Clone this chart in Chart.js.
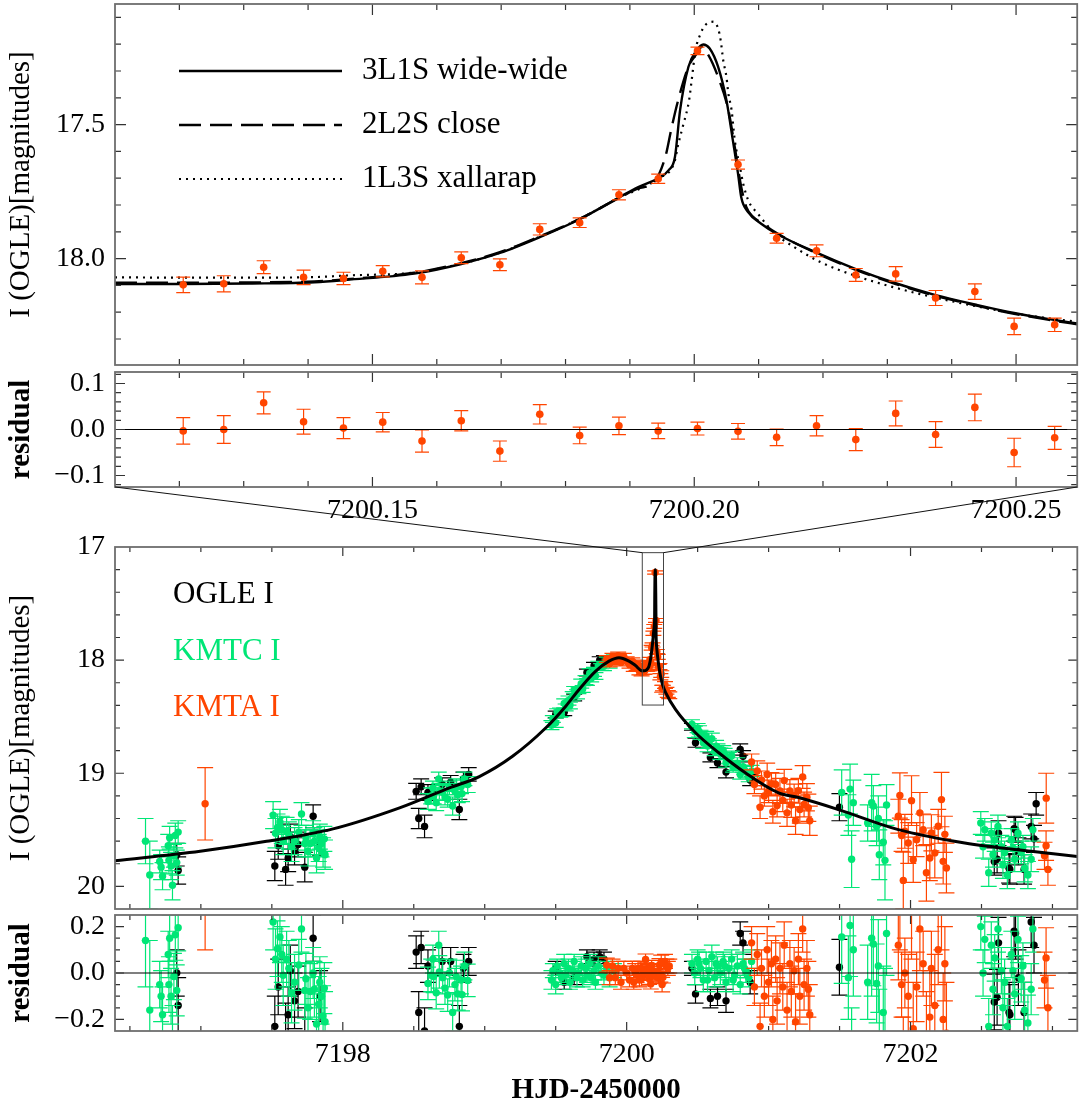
<!DOCTYPE html>
<html>
<head>
<meta charset="utf-8">
<script src="https://cdn.jsdelivr.net/npm/chart.js@4.4.1/dist/chart.umd.min.js"></script>
<style>
  html, body { margin: 0; padding: 0; background: #ffffff; }
  #wrap { position: relative; width: 1081px; height: 1109px; }
  #wrap canvas { position: absolute; left: 0; top: 0; }
</style>
</head>
<body>
<div id="wrap">
  <canvas id="cZoom" width="1081" height="1109"></canvas>
  <canvas id="cZoomRes" width="1081" height="1109"></canvas>
  <canvas id="cMain" width="1081" height="1109"></canvas>
  <canvas id="cMainRes" width="1081" height="1109"></canvas>
</div>
<script>
// ---------------- zoomed window around the caustic crossing ----------------
const zoomXRange = [7200.11, 7200.2595];
const zoomYRange = [17.05, 18.397];

// KMTA I points inside the zoom window
const zoomTime = [7200.1206, 7200.1269, 7200.1331, 7200.1393, 7200.1455, 7200.1516, 7200.1577, 7200.1638,
  7200.1698, 7200.1760, 7200.1822, 7200.1883, 7200.1944, 7200.2005, 7200.2068, 7200.2128, 7200.2190,
  7200.2251, 7200.2313, 7200.2375, 7200.2436, 7200.2497, 7200.2560];
const zoomMag = [18.098, 18.094, 18.032, 18.070, 18.074, 18.047, 18.070, 17.997, 18.023, 17.891, 17.866,
  17.762, 17.702, 17.225, 17.649, 17.924, 17.971, 18.061, 18.057, 18.147, 18.123, 18.253, 18.247];
const zoomErr = [0.029, 0.030, 0.024, 0.027, 0.023, 0.021, 0.024, 0.022, 0.022, 0.021, 0.018, 0.019,
  0.017, 0.014, 0.017, 0.018, 0.022, 0.024, 0.027, 0.028, 0.029, 0.031, 0.025];
const zoomRes = [-0.003, 0.000, 0.058, 0.017, 0.003, 0.016, -0.025, 0.019, -0.047, 0.033, -0.013, 0.008,
  -0.003, 0.002, -0.004, -0.017, 0.008, -0.022, 0.035, -0.011, 0.048, -0.050, -0.018];

// model light curves in the zoom window
const wideTime = [7200.1100, 7200.1205, 7200.1309, 7200.1410, 7200.1461, 7200.1565, 7200.1638, 7200.1698,
  7200.1760, 7200.1822, 7200.1883, 7200.1913, 7200.1944, 7200.1960, 7200.1970, 7200.1978, 7200.1991,
  7200.2004, 7200.2014, 7200.2024, 7200.2037, 7200.2050, 7200.2060, 7200.2068, 7200.2073, 7200.2084,
  7200.2104, 7200.2128, 7200.2190, 7200.2251, 7200.2313, 7200.2375, 7200.2436, 7200.2497, 7200.2560, 7200.2595];
const wideMag = [18.095, 18.095, 18.093, 18.088, 18.079, 18.056, 18.020, 17.979, 17.920, 17.853, 17.772,
  17.733, 17.700, 17.671, 17.621, 17.446, 17.284, 17.222, 17.201, 17.216, 17.284, 17.409, 17.559, 17.683,
  17.771, 17.827, 17.870, 17.907, 17.978, 18.039, 18.092, 18.136, 18.171, 18.203, 18.229, 18.242];

const closeTime = [7200.1100, 7200.1205, 7200.1309, 7200.1410, 7200.1461, 7200.1565, 7200.1638, 7200.1698,
  7200.1760, 7200.1822, 7200.1883, 7200.1913, 7200.1937, 7200.1955, 7200.1965, 7200.1975, 7200.1991,
  7200.2006, 7200.2011, 7200.2022, 7200.2037, 7200.2053, 7200.2063, 7200.2073, 7200.2081, 7200.2091,
  7200.2104, 7200.2128, 7200.2190, 7200.2251, 7200.2313, 7200.2375, 7200.2436, 7200.2497, 7200.2560, 7200.2595];
const closeMag = [18.090, 18.090, 18.089, 18.085, 18.077, 18.053, 18.017, 17.976, 17.917, 17.852, 17.774,
  17.738, 17.716, 17.621, 17.509, 17.409, 17.284, 17.228, 17.210, 17.241, 17.322, 17.446, 17.584, 17.733,
  17.808, 17.843, 17.866, 17.905, 17.980, 18.042, 18.095, 18.139, 18.174, 18.206, 18.232, 18.245];

const xallTime = [7200.1100, 7200.1205, 7200.1309, 7200.1410, 7200.1461, 7200.1565, 7200.1638, 7200.1698,
  7200.1760, 7200.1822, 7200.1883, 7200.1944, 7200.1970, 7200.1974, 7200.1982, 7200.1992, 7200.1996,
  7200.2002, 7200.2010, 7200.2017, 7200.2030, 7200.2037, 7200.2041, 7200.2045, 7200.2050, 7200.2053,
  7200.2058, 7200.2063, 7200.2071, 7200.2076, 7200.2084, 7200.2099, 7200.2125, 7200.2156, 7200.2197,
  7200.2249, 7200.2301, 7200.2352, 7200.2404, 7200.2456, 7200.2507, 7200.2595];
const xallMag = [18.070, 18.071, 18.071, 18.069, 18.063, 18.052, 18.019, 17.978, 17.918, 17.852, 17.773,
  17.701, 17.634, 17.585, 17.509, 17.409, 17.334, 17.222, 17.160, 17.129, 17.116, 17.141, 17.185, 17.260,
  17.322, 17.384, 17.446, 17.559, 17.658, 17.720, 17.783, 17.833, 17.906, 17.958, 18.014, 18.063, 18.101,
  18.133, 18.161, 18.186, 18.208, 18.236];

// ---------------- full light curve ----------------
const fullXRange = [7196.395, 7203.175];
const fullYRange = [17.0, 20.2];

// 3L1S wide-wide model over the whole window
const modelTime = [7196.395, 7196.995, 7197.463, 7197.931, 7198.400, 7198.751, 7198.962, 7199.196, 7199.431,
  7199.571, 7199.665, 7199.782, 7199.876, 7199.946, 7200.016, 7200.060, 7200.1100, 7200.1309, 7200.1461,
  7200.1565, 7200.1638, 7200.1698, 7200.1760, 7200.1822, 7200.1883, 7200.1944, 7200.1970, 7200.1978,
  7200.1991, 7200.2004, 7200.2014, 7200.2024, 7200.2037, 7200.2050, 7200.2060, 7200.2068, 7200.2073,
  7200.2084, 7200.2104, 7200.2128, 7200.2190, 7200.2251, 7200.2313, 7200.2375, 7200.2436, 7200.2497,
  7200.2560, 7200.274, 7200.344, 7200.485, 7200.649, 7200.836, 7201.070, 7201.211, 7201.492, 7201.914,
  7202.382, 7202.850, 7203.175];
const modelMag = [19.773, 19.690, 19.602, 19.492, 19.306, 19.129, 19.029, 18.850, 18.598, 18.407, 18.259,
  18.097, 18.009, 17.979, 18.009, 18.045, 18.095, 18.093, 18.079, 18.056, 18.020, 17.979, 17.920, 17.853,
  17.772, 17.700, 17.621, 17.446, 17.284, 17.222, 17.201, 17.216, 17.284, 17.409, 17.559, 17.683, 17.771,
  17.827, 17.870, 17.907, 17.978, 18.039, 18.092, 18.136, 18.171, 18.203, 18.229, 18.285, 18.436, 18.642,
  18.819, 18.996, 19.173, 19.215, 19.321, 19.498, 19.616, 19.690, 19.735];

// OGLE I
const ogleTime = [7196.83, 7196.84,
  7197.521, 7197.545, 7197.597, 7197.615, 7197.63, 7197.66, 7197.685, 7197.732, 7197.791, 7197.84,
  7198.517, 7198.535, 7198.552, 7198.576, 7198.60, 7198.70, 7198.76, 7198.821, 7198.85, 7198.887,
  7199.50, 7199.56, 7199.63, 7199.72, 7199.77, 7199.81, 7199.84,
  7200.46, 7200.485, 7200.59, 7200.64, 7200.70, 7200.80, 7200.82, 7200.87,
  7201.499,
  7202.59, 7202.61, 7202.62, 7202.694, 7202.70, 7202.73, 7202.74, 7202.76, 7202.80, 7202.85, 7202.87, 7202.885];
const ogleMag = [19.72, 19.86,
  19.82, 19.64, 19.85, 19.75, 19.56, 19.69, 19.63, 19.83, 19.38, 19.62,
  19.16, 19.40, 19.12, 19.47, 19.17, 19.10, 19.08, 19.32, 19.05, 19.01,
  18.48, 18.46, 18.33, 18.11, 18.05, 18.00, 17.99,
  18.59, 18.73, 18.86, 18.91, 18.99, 18.79, 18.85, 19.06,
  19.30,
  19.78, 19.76, 19.53, 19.84, 19.85, 19.49, 19.50, 19.69, 19.85, 19.47, 19.58, 19.27];
const ogleErr = [0.10, 0.12,
  0.13, 0.12, 0.14, 0.12, 0.11, 0.12, 0.11, 0.13, 0.10, 0.11,
  0.07, 0.09, 0.07, 0.10, 0.07, 0.06, 0.06, 0.09, 0.06, 0.06,
  0.03, 0.03, 0.03, 0.03, 0.03, 0.03, 0.03,
  0.03, 0.04, 0.04, 0.04, 0.05, 0.05, 0.05, 0.05,
  0.12,
  0.12, 0.12, 0.11, 0.13, 0.13, 0.11, 0.11, 0.12, 0.13, 0.11, 0.12, 0.10];
const ogleRes = [0.00, -0.14,
  -0.23, -0.06, -0.27, -0.18, 0.01, -0.12, -0.08, -0.28, 0.15, -0.10,
  0.09, -0.17, 0.11, -0.25, 0.03, 0.05, 0.05, -0.23, 0.02, 0.05,
  0.02, -0.04, -0.02, 0.07, 0.06, 0.07, 0.06,
  0.02, -0.09, -0.11, -0.10, -0.12, 0.17, 0.13, -0.04,
  0.025,
  -0.125, -0.105, 0.13, -0.17, -0.18, 0.18, 0.17, -0.02, -0.17, 0.22, 0.12, 0.42];

// KMTC I
const kmtcTime = [7196.61, 7196.64, 7196.71, 7196.72, 7196.73, 7196.77, 7196.775, 7196.78, 7196.79, 7196.80,
  7196.81, 7196.82, 7196.83, 7196.84,
  7197.509, 7197.526, 7197.54, 7197.557, 7197.57, 7197.58, 7197.604, 7197.62, 7197.639, 7197.66, 7197.69,
  7197.709, 7197.732, 7197.74, 7197.755, 7197.77, 7197.791, 7197.80, 7197.815, 7197.83, 7197.838, 7197.85,
  7197.861, 7197.87, 7197.875,
  7198.60, 7198.623, 7198.635, 7198.64, 7198.658, 7198.676, 7198.68, 7198.704, 7198.72, 7198.739, 7198.751,
  7198.774, 7198.79, 7198.80, 7198.810, 7198.833, 7198.84, 7198.857, 7198.88,
  7199.47, 7199.48, 7199.50, 7199.51, 7199.53, 7199.54, 7199.56, 7199.57, 7199.59, 7199.60, 7199.62, 7199.63,
  7199.65, 7199.66, 7199.68, 7199.69, 7199.71, 7199.72, 7199.74, 7199.75, 7199.77, 7199.78, 7199.80, 7199.82,
  7199.84, 7199.86, 7199.88, 7199.91,
  7200.46, 7200.48, 7200.50, 7200.51, 7200.52, 7200.54, 7200.56, 7200.57, 7200.58, 7200.60, 7200.62, 7200.63,
  7200.64, 7200.66, 7200.68, 7200.69, 7200.70, 7200.72, 7200.74, 7200.75, 7200.76, 7200.78, 7200.80, 7200.82,
  7200.83, 7200.84, 7200.86, 7200.88,
  7201.515, 7201.562, 7201.574, 7201.585, 7201.597, 7201.698, 7201.726, 7201.738, 7201.761, 7201.773, 7201.78,
  7201.808, 7201.82, 7201.831,
  7202.495, 7202.511, 7202.523, 7202.551, 7202.569, 7202.581, 7202.593, 7202.616, 7202.64, 7202.651, 7202.663,
  7202.682, 7202.71, 7202.722, 7202.734, 7202.757, 7202.78, 7202.792, 7202.804, 7202.827, 7202.85, 7202.862];
const kmtcMag = [19.60, 19.90, 19.78, 19.83, 19.91, 19.64, 19.77, 19.57, 19.82, 19.99,
  19.73, 19.55, 19.79, 19.52,
  19.37, 19.53, 19.48, 19.43, 19.50, 19.59, 19.51, 19.55, 19.65, 19.60, 19.52,
  19.36, 19.62, 19.57, 19.69, 19.62, 19.53, 19.60, 19.75, 19.66, 19.56, 19.62,
  19.70, 19.58, 19.72,
  19.25, 19.20, 19.13, 19.20, 19.26, 19.05, 19.16, 19.17, 19.21, 19.23, 19.13,
  19.29, 19.16, 19.12, 19.19, 19.12, 19.18, 19.05, 19.10,
  18.575, 18.521, 18.554, 18.46, 18.463, 18.47, 18.382, 18.418, 18.357, 18.401, 18.319, 18.263,
  18.302, 18.266, 18.208, 18.255, 18.177, 18.193, 18.116, 18.162, 18.104, 18.14, 18.05, 18.061,
  18.053, 18.004, 18.03, 17.983,
  18.567, 18.634, 18.60, 18.63, 18.66, 18.73, 18.67, 18.76, 18.735, 18.695, 18.805, 18.76,
  18.78, 18.827, 18.796, 18.83, 18.907, 18.866, 18.845, 18.94, 18.934, 18.913, 19.012, 18.941,
  18.97, 18.99, 19.035, 18.98,
  19.17, 19.37, 19.14, 19.76, 19.26, 19.44, 19.26, 19.29, 19.47, 19.40, 19.72,
  19.61, 19.77, 19.28,
  19.44, 19.65, 19.50, 19.88, 19.53, 19.72, 19.59, 19.47, 19.65, 19.81, 19.70,
  19.90, 19.59, 19.66, 19.76, 19.53, 19.70, 19.65, 19.84, 19.90, 19.76, 19.50];
const kmtcErr = [0.20, 0.30, 0.10, 0.11, 0.12, 0.10, 0.12, 0.10, 0.12, 0.13,
  0.10, 0.11, 0.11, 0.10,
  0.12, 0.13, 0.12, 0.11, 0.12, 0.13, 0.12, 0.12, 0.13, 0.12, 0.11,
  0.10, 0.12, 0.11, 0.13, 0.12, 0.11, 0.12, 0.13, 0.12, 0.11, 0.12,
  0.13, 0.11, 0.13,
  0.07, 0.07, 0.06, 0.07, 0.07, 0.06, 0.07, 0.07, 0.07, 0.07, 0.06,
  0.08, 0.07, 0.07, 0.07, 0.06, 0.07, 0.06, 0.07,
  0.04, 0.03, 0.04, 0.03, 0.04, 0.03, 0.04, 0.03, 0.04, 0.03, 0.04, 0.03,
  0.04, 0.03, 0.04, 0.03, 0.04, 0.03, 0.04, 0.03, 0.04, 0.03, 0.04, 0.03,
  0.04, 0.03, 0.04, 0.03,
  0.04, 0.05, 0.04, 0.05, 0.04, 0.05, 0.04, 0.05, 0.04, 0.05, 0.04, 0.05,
  0.04, 0.05, 0.04, 0.05, 0.04, 0.05, 0.04, 0.05, 0.04, 0.05, 0.04, 0.05,
  0.04, 0.05, 0.04, 0.05,
  0.20, 0.18, 0.22, 0.25, 0.20, 0.16, 0.25, 0.18, 0.17, 0.20, 0.22,
  0.20, 0.35, 0.18,
  0.10, 0.10, 0.10, 0.12, 0.10, 0.11, 0.10, 0.10, 0.10, 0.12, 0.10,
  0.12, 0.10, 0.10, 0.11, 0.10, 0.10, 0.10, 0.12, 0.12, 0.11, 0.10];
const kmtcRes = [0.14, -0.16, -0.05, -0.10, -0.18, 0.08, -0.05, 0.15, -0.10, -0.27,
  -0.015, 0.165, -0.075, 0.195,
  0.22, 0.06, 0.105, 0.155, 0.08, -0.01, 0.06, 0.02, -0.085, -0.04, 0.035,
  0.19, -0.075, -0.025, -0.15, -0.08, 0.00, -0.07, -0.22, -0.135, -0.04, -0.10,
  -0.185, -0.065, -0.21,
  -0.045, -0.01, 0.06, -0.015, -0.085, 0.12, 0.005, -0.02, -0.065, -0.095, 0.00,
  -0.17, -0.05, -0.015, -0.09, -0.03, -0.093, 0.03, -0.032,
  -0.03, 0.01, -0.05, 0.03, 0.00, -0.02, 0.04, -0.01, 0.02, -0.04, 0.01, 0.05,
  -0.02, 0.00, 0.03, -0.03, 0.02, -0.01, 0.04, -0.02, 0.01, -0.04, 0.03, 0.00,
  -0.01, 0.02, -0.02, 0.01,
  0.04, 0.00, 0.06, 0.04, 0.02, -0.03, 0.05, -0.03, 0.01, 0.07, -0.02, 0.04,
  0.03, 0.00, 0.05, 0.03, -0.04, 0.02, 0.06, -0.03, -0.01, 0.03, -0.05, 0.04,
  0.02, 0.01, -0.02, 0.05,
  0.155, -0.02, 0.205, -0.40, 0.10, -0.04, 0.15, 0.125, -0.045, 0.03, -0.29,
  -0.17, -0.33, 0.17,
  0.20, 0.00, 0.145, -0.23, 0.12, -0.07, 0.065, 0.19, 0.01, -0.15, -0.04,
  -0.23, 0.08, 0.01, -0.09, 0.145, -0.025, 0.03, -0.16, -0.215, -0.07, 0.19];

// KMTA I (the points inside the zoom window are listed in zoomTime above)
const kmtaTime = [7197.03,
  7199.86, 7199.88, 7199.90, 7199.92, 7199.94, 7199.96, 7199.98, 7200.00, 7200.02, 7200.04, 7200.05, 7200.06,
  7200.07, 7200.08, 7200.09, 7200.10, 7200.105,
  7200.27, 7200.28, 7200.29, 7200.30,
  7200.88, 7200.90, 7200.92, 7200.94, 7200.95, 7200.97, 7200.99, 7201.00, 7201.02, 7201.03, 7201.05, 7201.06,
  7201.08, 7201.10, 7201.11, 7201.13, 7201.15, 7201.16, 7201.18, 7201.19, 7201.21, 7201.22, 7201.24, 7201.25,
  7201.27, 7201.28, 7201.29,
  7201.914, 7201.925, 7201.937, 7201.949, 7201.96, 7201.984, 7202.007, 7202.019, 7202.043, 7202.066, 7202.089,
  7202.112, 7202.136, 7202.147, 7202.171, 7202.195, 7202.218, 7202.23, 7202.242, 7202.253,
  7202.944, 7202.955, 7202.956, 7202.968];
const kmtaMag = [19.27,
  17.99, 18.03, 17.97, 18.01, 17.96, 18.02, 17.97, 18.00, 18.04, 18.01, 18.07, 18.03,
  18.06, 18.04, 18.10, 18.06, 18.11,
  18.22, 18.27, 18.30, 18.31,
  18.90, 19.10, 18.98, 19.30, 19.06, 19.20, 19.01, 19.16, 19.095, 19.34, 19.10, 19.285,
  19.156, 19.24, 19.065, 19.35, 19.157, 19.28, 19.196, 19.42, 19.155, 19.32, 19.033, 19.276,
  19.212, 19.305, 19.42,
  19.38, 19.197, 19.55, 19.947, 19.513, 19.616, 19.242, 19.764, 19.587, 19.35, 19.50,
  19.88, 19.749, 19.527, 19.704, 19.469, 19.233, 19.779, 19.54, 19.837,
  19.73, 19.64, 19.22, 19.85];
const kmtaErr = [0.32,
  0.03, 0.03, 0.03, 0.03, 0.03, 0.03, 0.03, 0.03, 0.03, 0.03, 0.03, 0.03,
  0.03, 0.03, 0.03, 0.03, 0.03,
  0.03, 0.03, 0.03, 0.03,
  0.07, 0.08, 0.09, 0.10, 0.08, 0.09, 0.10, 0.10, 0.10, 0.10, 0.10, 0.10,
  0.11, 0.10, 0.10, 0.12, 0.10, 0.11, 0.10, 0.12, 0.11, 0.12, 0.10, 0.11,
  0.12, 0.12, 0.13,
  0.15, 0.20, 0.14, 0.25, 0.15, 0.18, 0.22, 0.20, 0.15, 0.18, 0.14,
  0.25, 0.20, 0.16, 0.22, 0.15, 0.24, 0.20, 0.16, 0.22,
  0.12, 0.13, 0.22, 0.14];
const kmtaRes = [0.42,
  0.034, -0.02, 0.03, -0.02, 0.02, -0.04, 0.02, 0.00, -0.03, 0.02, -0.04, 0.01,
  -0.01, 0.02, -0.03, 0.02, -0.025,
  0.05, 0.03, 0.02, 0.03,
  0.13, -0.06, 0.08, -0.23, 0.02, -0.10, 0.10, -0.04, 0.04, -0.20, 0.06, -0.12,
  0.02, -0.06, 0.12, -0.16, 0.04, -0.08, 0.01, -0.21, 0.06, -0.10, 0.19, -0.05,
  0.02, -0.07, -0.18,
  0.12, 0.30, -0.05, -0.44, 0.00, -0.10, 0.28, -0.24, -0.06, 0.19, 0.04,
  -0.33, -0.19, 0.02, -0.14, 0.10, 0.34, -0.20, 0.04, -0.26,
  -0.03, 0.065, 0.48, -0.15];

// ---------------- styling ----------------
const FONT = "'Liberation Serif', 'Times New Roman', serif";
const C_OGLE = '#000000';
const C_KMTC = '#00E676';
const C_KMTA = '#FF4500';

function pts(t, v) { return t.map((x, i) => ({ x: x, y: v[i] })); }
function isMultiple(v, step) { const r = v / step; return Math.abs(r - Math.round(r)) < 1e-6; }
function fmtNum(v, digits) {
  const s = Math.abs(v) < 1e-9 ? (0).toFixed(digits) : Math.abs(v).toFixed(digits);
  return v < -1e-9 ? '\u2212' + s : s;
}

// Frame, inward ticks on all four sides, error bars, reference line, legends, zoom box
const axisFrame = {
  id: 'axisFrame',
  beforeDatasetDraw(chart, args) {
    const ds = chart.data.datasets[args.index];
    if (!ds.errors) return;
    const { ctx, chartArea: a } = chart;
    const ys = chart.scales.y;
    ctx.save();
    ctx.beginPath();
    ctx.rect(a.left, a.top, a.right - a.left, a.bottom - a.top);
    ctx.clip();
    ctx.strokeStyle = ds.errorColor;
    ctx.lineWidth = ds.errorWidth || 1.2;
    const cap = ds.capHalf || 7;
    args.meta.data.forEach((pt, i) => {
      const v = ds.data[i].y, e = ds.errors[i];
      const y1 = ys.getPixelForValue(v - e), y2 = ys.getPixelForValue(v + e);
      const x = pt.x;
      ctx.beginPath();
      ctx.moveTo(x, y1); ctx.lineTo(x, y2);
      ctx.moveTo(x - cap, y1); ctx.lineTo(x + cap, y1);
      ctx.moveTo(x - cap, y2); ctx.lineTo(x + cap, y2);
      ctx.stroke();
    });
    ctx.restore();
  },
  afterDatasetsDraw(chart, args, opts) {
    const { ctx, chartArea: a, scales } = chart;
    const xs = scales.x, ys = scales.y;
    ctx.save();
    if (opts.zeroLine) {
      const yz = ys.getPixelForValue(0);
      ctx.strokeStyle = '#000';
      ctx.lineWidth = 1.2;
      ctx.beginPath(); ctx.moveTo(a.left, yz); ctx.lineTo(a.right, yz); ctx.stroke();
    }
    // inward tick marks
    ctx.strokeStyle = '#333';
    ctx.lineWidth = 1.2;
    const majLen = opts.majorLen || 9, minLen = opts.minorLen || 5;
    xs.ticks.forEach(t => {
      const p = xs.getPixelForValue(t.value);
      if (p < a.left + 0.5 || p > a.right - 0.5) return;
      const len = isMultiple(t.value, opts.xMajor) ? majLen : minLen;
      ctx.beginPath();
      ctx.moveTo(p, a.bottom); ctx.lineTo(p, a.bottom - len);
      ctx.moveTo(p, a.top); ctx.lineTo(p, a.top + len);
      ctx.stroke();
    });
    ys.ticks.forEach(t => {
      const p = ys.getPixelForValue(t.value);
      if (p < a.top + 0.5 || p > a.bottom - 0.5) return;
      const len = isMultiple(t.value, opts.yMajor) ? majLen : minLen;
      ctx.beginPath();
      ctx.moveTo(a.left, p); ctx.lineTo(a.left + len, p);
      ctx.moveTo(a.right, p); ctx.lineTo(a.right - len, p);
      ctx.stroke();
    });
    // frame
    ctx.strokeStyle = '#6e6e6e';
    ctx.lineWidth = 1.8;
    ctx.strokeRect(a.left, a.top, a.right - a.left, a.bottom - a.top);

    // zoom box and connector lines to the panel above
    if (opts.zoomBox) {
      const zb = opts.zoomBox;
      const x0 = xs.getPixelForValue(zb.x[0]), x1 = xs.getPixelForValue(zb.x[1]);
      const y0 = ys.getPixelForValue(zb.y[0]), y1 = ys.getPixelForValue(zb.y[1]);
      ctx.strokeStyle = '#444';
      ctx.lineWidth = 1;
      ctx.strokeRect(x0, y0, x1 - x0, y1 - y0);
      const up = zb.source().chartArea;
      ctx.strokeStyle = '#111';
      ctx.beginPath();
      ctx.moveTo(up.left, up.bottom); ctx.lineTo(x0, y0);
      ctx.moveTo(up.right, up.bottom); ctx.lineTo(x1, y0);
      ctx.stroke();
    }

    // legends
    if (opts.legend) {
      const lg = opts.legend;
      ctx.textBaseline = 'middle';
      ctx.textAlign = 'left';
      ctx.font = lg.font;
      let row = 0;
      chart.data.datasets.forEach(ds => {
        if (!ds.inLegend) return;
        const y = lg.y + row * lg.dy;
        if (lg.kind === 'lines') {
          ctx.strokeStyle = ds.borderColor;
          ctx.lineWidth = ds.borderWidth;
          ctx.setLineDash(ds.borderDash || []);
          ctx.beginPath(); ctx.moveTo(lg.x, y); ctx.lineTo(lg.x + lg.lineLen, y); ctx.stroke();
          ctx.setLineDash([]);
          ctx.fillStyle = '#000';
          ctx.fillText(ds.label, lg.x + lg.lineLen + lg.gap, y);
        } else {
          ctx.fillStyle = ds.backgroundColor;
          ctx.fillText(ds.label, lg.x, y);
        }
        row++;
      });
    }
    ctx.restore();
  }
};

function xAxis(range, step, major, digits, showLabels, height, title) {
  return {
    type: 'linear', min: range[0], max: range[1],
    grid: { display: false, drawTicks: false },
    border: { display: false },
    ticks: {
      display: showLabels, stepSize: step, autoSkip: false, includeBounds: false, maxRotation: 0,
      padding: 7, color: '#000', font: { family: FONT, size: 28 },
      callback: v => isMultiple(v, major) ? v.toFixed(digits) : ''
    },
    title: title ? { display: true, text: title, color: '#000', font: { family: FONT, size: 29, weight: 'bold' },
      padding: { top: 0, bottom: 1 } } : { display: false },
    afterFit: s => { s.height = height; s.paddingLeft = 0; s.paddingRight = 0; }
  };
}
function yAxis(range, step, major, digits, reverse, title, bold) {
  return {
    type: 'linear', min: range[0], max: range[1], reverse: reverse,
    grid: { display: false, drawTicks: false },
    border: { display: false },
    ticks: {
      stepSize: step, autoSkip: false, includeBounds: false, padding: 10, color: '#000',
      font: { family: FONT, size: 28 },
      callback: v => isMultiple(v, major) ? fmtNum(v, digits) : ''
    },
    title: { display: true, text: title, color: '#000',
      font: { family: FONT, size: 29, weight: bold ? 'bold' : 'normal' },
      padding: { top: 4, bottom: 0 } },
    afterFit: s => { s.width = 115; s.paddingTop = 0; s.paddingBottom = 0; }
  };
}
function baseOptions(pad, scales, pluginOpts) {
  return {
    responsive: false, animation: false, devicePixelRatio: 1,
    layout: { padding: pad },
    events: [],
    plugins: { legend: { display: false }, tooltip: { enabled: false }, axisFrame: pluginOpts },
    scales: scales
  };
}
function pointSet(label, color, t, v, e, order, radius, cap) {
  return {
    type: 'scatter', label: label, data: pts(t, v), errors: e,
    backgroundColor: color, borderColor: color, errorColor: color, capHalf: cap,
    pointRadius: radius, pointBorderWidth: 0, pointHoverRadius: radius,
    order: order, clip: 0, inLegend: true
  };
}
function lineSet(label, t, v, dash, width, order) {
  return {
    type: 'line', label: label, data: pts(t, v), borderColor: '#000', backgroundColor: '#000',
    borderWidth: width, borderDash: dash, pointRadius: 0, cubicInterpolationMode: 'monotone',
    fill: false, order: order, clip: 0, inLegend: true
  };
}

// ---- zoom panel ----
const zoomChart = new Chart(document.getElementById('cZoom'), {
  type: 'scatter',
  data: { datasets: [
    Object.assign(pointSet('KMTA I', C_KMTA, zoomTime, zoomMag, zoomErr, 0, 3.8, 7), { inLegend: false }),
    lineSet('3L1S wide-wide', wideTime, wideMag, [], 2.4, 3),
    lineSet('2L2S close', closeTime, closeMag, [22, 9], 2.4, 2),
    lineSet('1L3S xallarap', xallTime, xallMag, [2, 5], 2.2, 1)
  ] },
  options: baseOptions({ top: 4, right: 1, bottom: 1109 - 365, left: 0 }, {
    x: xAxis(zoomXRange, 0.01, 0.05, 2, false, 0, null),
    y: yAxis(zoomYRange, 0.1, 0.5, 1, true, 'I (OGLE)[magnitudes]', false)
  }, { xMajor: 0.05, yMajor: 0.5, majorLen: 11, minorLen: 6,
       legend: { kind: 'lines', x: 179, y: 71, dy: 54, lineLen: 163, gap: 20, font: '31px ' + FONT } }),
  plugins: [axisFrame]
});

// ---- zoom residuals ----
const zoomResChart = new Chart(document.getElementById('cZoomRes'), {
  type: 'scatter',
  data: { datasets: [pointSet('KMTA I', C_KMTA, zoomTime, zoomRes, zoomErr, 0, 3.8, 7)] },
  options: baseOptions({ top: 372, right: 1, bottom: 1109 - 487 - 40, left: 0 }, {
    x: xAxis(zoomXRange, 0.01, 0.05, 2, true, 40, null),
    y: yAxis([-0.125, 0.125], 0.02, 0.1, 1, false, 'residual', true)
  }, { xMajor: 0.05, yMajor: 0.1, majorLen: 10, minorLen: 6, zeroLine: true }),
  plugins: [axisFrame]
});

// ---- full light curve ----
const kmtaAllTime = kmtaTime.concat(zoomTime);
const kmtaAllMag = kmtaMag.concat(zoomMag);
const kmtaAllErr = kmtaErr.concat(zoomErr);
const kmtaAllRes = kmtaRes.concat(zoomRes);

const mainChart = new Chart(document.getElementById('cMain'), {
  type: 'scatter',
  data: { datasets: [
    Object.assign(lineSet('3L1S wide-wide', modelTime, modelMag, [], 3, 0), { inLegend: false }),
    pointSet('OGLE I', C_OGLE, ogleTime, ogleMag, ogleErr, 3, 3.7, 8),
    pointSet('KMTC I', C_KMTC, kmtcTime, kmtcMag, kmtcErr, 2, 3.7, 8),
    pointSet('KMTA I', C_KMTA, kmtaAllTime, kmtaAllMag, kmtaAllErr, 1, 3.7, 8)
  ] },
  options: baseOptions({ top: 547, right: 1, bottom: 1109 - 909, left: 0 }, {
    x: xAxis(fullXRange, 0.5, 2, 0, false, 0, null),
    y: yAxis(fullYRange, 0.2, 1, 0, true, 'I (OGLE)[magnitudes]', false)
  }, { xMajor: 2, yMajor: 1, majorLen: 9, minorLen: 5,
       zoomBox: { x: zoomXRange, y: zoomYRange, source: () => zoomResChart },
       legend: { kind: 'text', x: 173, y: 595, dy: 56.5, font: '31px ' + FONT } }),
  plugins: [axisFrame]
});

// ---- full residuals ----
const mainResChart = new Chart(document.getElementById('cMainRes'), {
  type: 'scatter',
  data: { datasets: [
    pointSet('OGLE I', C_OGLE, ogleTime, ogleRes, ogleErr, 3, 3.7, 8),
    pointSet('KMTC I', C_KMTC, kmtcTime, kmtcRes, kmtcErr, 2, 3.7, 8),
    pointSet('KMTA I', C_KMTA, kmtaAllTime, kmtaAllRes, kmtaAllErr, 1, 3.7, 8)
  ] },
  options: baseOptions({ top: 915, right: 1, bottom: 0, left: 0 }, {
    x: xAxis(fullXRange, 0.5, 2, 0, true, 1109 - 1031, 'HJD-2450000'),
    y: yAxis([-0.25, 0.25], 0.05, 0.2, 1, false, 'residual', true)
  }, { xMajor: 2, yMajor: 0.2, majorLen: 9, minorLen: 5, zeroLine: true }),
  plugins: [axisFrame]
});
</script>
</body>
</html>
